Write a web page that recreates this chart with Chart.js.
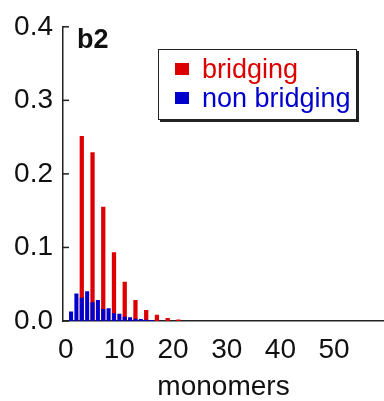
<!DOCTYPE html>
<html>
<head>
<meta charset="utf-8">
<script src="https://cdn.jsdelivr.net/npm/chart.js@4.4.1/dist/chart.umd.min.js"></script>
<style>
  html, body { margin: 0; padding: 0; background: #fff; }
  #wrap { width: 384px; height: 401px; }
</style>
</head>
<body>
<div id="wrap"><canvas id="chart" width="384" height="401"></canvas></div>
<script>
// datos
const bridgingX = [3, 5, 7, 9, 11, 13, 15, 17, 19, 21];
const bridgingY = [0.251, 0.229, 0.155, 0.093, 0.053, 0.028, 0.0145, 0.008, 0.0035, 0.0015];
const nonBridgingX = [1, 2, 3, 4, 5, 6, 7, 8, 9, 10, 11, 12, 13, 14, 15, 16];
const nonBridgingY = [0.0126, 0.037, 0.031, 0.040, 0.025, 0.028, 0.016, 0.017, 0.010, 0.0095, 0.0054, 0.0045, 0.0027, 0.0023, 0.0014, 0.001];
const xTicks = [0, 10, 20, 30, 40, 50];
const yTicks = [0, 0.1, 0.2, 0.3, 0.4];
const seriesLabels = ['bridging', 'non bridging'];
const panelLabel = 'b2';

const RED = '#dd0000';
const BLUE = '#0000cc';
const FONT = '"Liberation Sans", Arial, sans-serif';

function toPoints(xs, ys) {
    return xs.map((x, i) => ({ x: x, y: ys[i] }));
}

// marcas hacia dentro en el eje y
const innerTicks = {
    id: 'innerTicks',
    afterDraw(chart) {
        const ctx = chart.ctx;
        const y = chart.scales.y;
        const left = chart.chartArea.left;
        ctx.save();
        ctx.strokeStyle = '#222';
        ctx.lineWidth = 1.5;
        y.ticks.forEach(t => {
            const py = y.getPixelForValue(t.value);
            ctx.beginPath();
            ctx.moveTo(left, py);
            ctx.lineTo(left + 6, py);
            ctx.stroke();
        });
        ctx.restore();
    }
};

// leyenda con sombra y etiqueta del panel
const boxLegend = {
    id: 'boxLegend',
    afterDraw(chart) {
        const ctx = chart.ctx;
        ctx.save();
        ctx.fillStyle = '#111';
        ctx.font = 'bold 27px ' + FONT;
        ctx.textBaseline = 'alphabetic';
        ctx.fillText(panelLabel, 77, 48);

        const bx = 158, by = 49, bw = 199, bh = 71;
        ctx.fillStyle = '#222';
        ctx.fillRect(bx + 2, by + 2, bw, bh);
        ctx.fillStyle = '#fff';
        ctx.fillRect(bx, by, bw, bh);
        ctx.strokeStyle = '#222';
        ctx.lineWidth = 1;
        ctx.strokeRect(bx + 0.5, by + 0.5, bw - 1, bh - 1);

        const colors = [RED, BLUE];
        const rows = [69, 98];
        ctx.font = '27px ' + FONT;
        ctx.textBaseline = 'alphabetic';
        seriesLabels.forEach((lab, i) => {
            ctx.fillStyle = colors[i];
            ctx.fillRect(175, rows[i] - 6, 14, 12);
            ctx.fillText(lab, 202, rows[i] + 9);
        });
        ctx.restore();
    }
};

const ctx = document.getElementById('chart').getContext('2d');
new Chart(ctx, {
    type: 'bar',
    data: {
        datasets: [{
            label: seriesLabels[0],
            data: toPoints(bridgingX, bridgingY),
            backgroundColor: RED,
            barThickness: 3.6,
            order: 2
        }, {
            label: seriesLabels[1],
            data: toPoints(nonBridgingX, nonBridgingY),
            backgroundColor: BLUE,
            barThickness: 3.4,
            order: 1
        }]
    },
    options: {
        responsive: false,
        animation: false,
        devicePixelRatio: 1,
        grouped: false,
        layout: { padding: { top: 25, right: 0, bottom: 0, left: 0 } },
        plugins: {
            legend: { display: false },
            tooltip: { enabled: false }
        },
        scales: {
            x: {
                type: 'linear',
                offset: false,
                min: -0.5,
                max: 59.3,
                grid: { display: false, drawTicks: false, offset: false },
                border: { display: true, color: '#222', width: 1.5 },
                afterBuildTicks: s => { s.ticks = xTicks.map(v => ({ value: v })); },
                afterFit: s => { s.height = 80; },
                ticks: {
                    color: '#111',
                    padding: 12,
                    font: { family: FONT, size: 28 }
                },
                title: {
                    display: true,
                    text: 'monomers',
                    color: '#111',
                    padding: 0,
                    font: { family: FONT, size: 28, lineHeight: 1.0 }
                }
            },
            y: {
                min: 0,
                max: 0.4,
                grid: { display: false, drawTicks: false },
                border: { display: true, color: '#222', width: 1.5 },
                afterBuildTicks: s => { s.ticks = yTicks.map(v => ({ value: v })); },
                afterFit: s => { s.width = 63; },
                ticks: {
                    color: '#111',
                    padding: 10,
                    font: { family: FONT, size: 28 },
                    callback: v => v.toFixed(1)
                }
            }
        }
    },
    plugins: [innerTicks, boxLegend]
});
</script>
</body>
</html>
